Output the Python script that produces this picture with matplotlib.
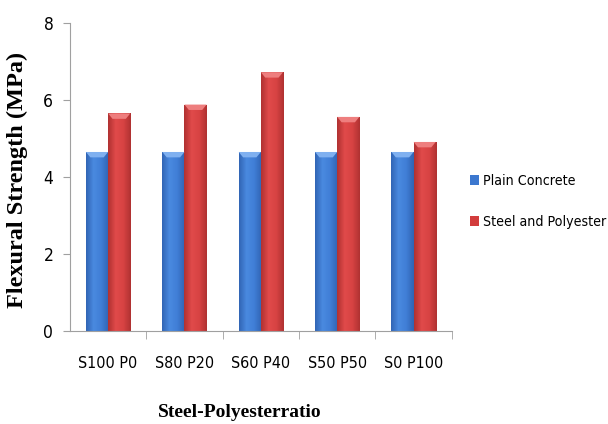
import numpy as np
import matplotlib
matplotlib.use("Agg")
import matplotlib.pyplot as plt
from matplotlib.colors import LinearSegmentedColormap
from matplotlib import font_manager

categories = ["S100 P0", "S80 P20", "S60 P40", "S50 P50", "S0 P100"]
plain = [4.65, 4.65, 4.65, 4.65, 4.65]
steel_poly = [5.65, 5.88, 6.72, 5.56, 4.91]

serif = ["Liberation Serif", "DejaVu Serif"]
narrow = font_manager.FontProperties(family="DejaVu Sans", stretch="condensed", size=11.5)
narrow_leg = font_manager.FontProperties(family="DejaVu Sans", stretch="condensed", size=10.2)

fig = plt.figure(figsize=(6.08, 4.24), dpi=100)
ax = fig.add_axes([0.115, 0.219, 0.628, 0.727])

x = np.arange(len(categories))
w = 0.29
b1 = ax.bar(x - w / 2, plain, w, color="#3c78cf", label="Plain Concrete", zorder=2)
b2 = ax.bar(x + w / 2, steel_poly, w, color="#d23c3c", label="Steel and Polyester", zorder=2)

# excel-like shading on the bars
blue_cm = LinearSegmentedColormap.from_list("b", ["#3165b5", "#4a8ae0", "#407ed6", "#3164b3"])
red_cm = LinearSegmentedColormap.from_list("r", ["#b03131", "#e04a4a", "#d84343", "#b03232"])
grad = np.linspace(0, 1, 64).reshape(1, -1)
for bars, cm, top_col in [(b1, blue_cm, "#7fb0f0"), (b2, red_cm, "#ee7e7e")]:
    for p in bars:
        x0, y0 = p.get_x(), p.get_y()
        bw, bh = p.get_width(), p.get_height()
        im = ax.imshow(grad, cmap=cm, aspect="auto", extent=[x0, x0 + bw, y0, y0 + bh], zorder=2)
        im.set_clip_path(p)
        ax.fill([x0, x0 + bw, x0 + bw * 0.8, x0 + bw * 0.2],
                [bh, bh, bh - 0.14, bh - 0.14], color=top_col, zorder=3, lw=0)

ax.set_xlim(-0.5, len(categories) - 0.5)
ax.set_ylim(0, 8)
ax.set_yticks([0, 2, 4, 6, 8])
ax.set_xticks(x)
ax.set_xticklabels(categories, fontproperties=narrow)
ax.set_xticks(np.arange(len(categories)) + 0.5, minor=True)
ax.tick_params(axis="x", which="major", length=0, pad=18)
ax.tick_params(axis="x", which="minor", length=6, color="#a0a0a0")
ax.tick_params(axis="y", length=5, color="#a0a0a0", pad=7)
for lab in ax.get_yticklabels():
    lab.set_fontproperties(narrow)
    lab.set_fontsize(12.5)

for s in ["top", "right"]:
    ax.spines[s].set_visible(False)
for s in ["left", "bottom"]:
    ax.spines[s].set_color("#a0a0a0")

fig.text(0.028, 0.575, "Flexural Strength (MPa)", rotation=90, ha="center", va="center",
         family=serif, fontweight="bold", fontsize=17.5)
fig.text(0.395, 0.028, "Steel-Polyesterratio", ha="center", va="center",
         family=serif, fontweight="bold", fontsize=14)

leg = ax.legend(loc="center left", bbox_to_anchor=(1.015, 0.42), frameon=False,
                prop=narrow_leg, handlelength=0.6, handleheight=0.7,
                handletextpad=0.3, labelspacing=1.9, borderaxespad=0.5)

fig.savefig("out.png", dpi=100)
